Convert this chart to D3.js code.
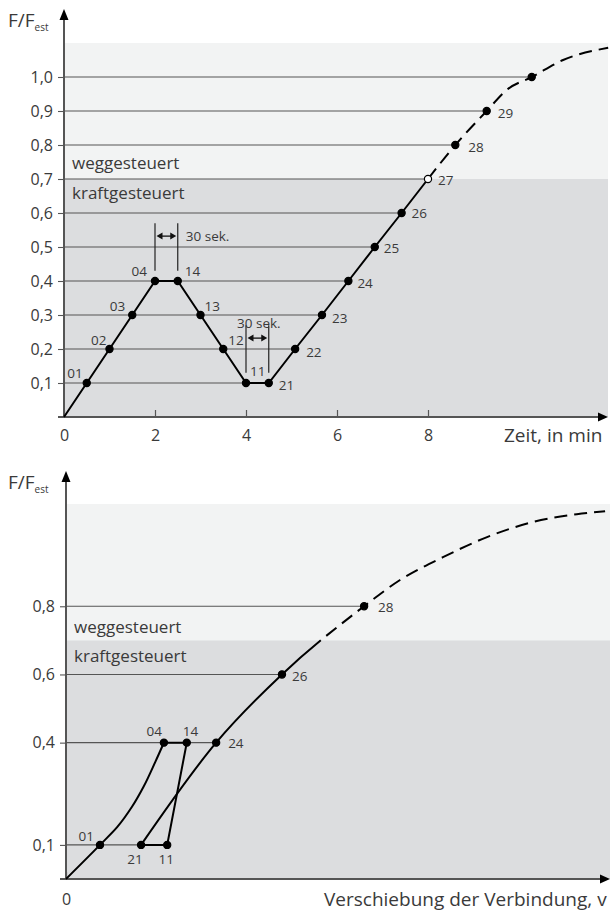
<!DOCTYPE html>
<html><head><meta charset="utf-8">
<script src="https://cdn.jsdelivr.net/npm/d3@7"></script>
<style>
body{margin:0;background:#fff}
svg{display:block}
text{font-family:"Open Sans",Roboto,"DejaVu Sans",sans-serif;fill:#3a3a3a}
</style>
</head><body><svg id="c" width="612" height="912"></svg>
<script>
// ---------------- DATA: upper chart (force vs. time) ----------------
const topTime   = [0, 0.5, 1.0, 1.5, 2.0, 2.5, 3.0, 3.5, 4.0, 4.5, 5.08, 5.67, 6.25, 6.83, 7.42, 8.0];
const topForce  = [0, 0.1, 0.2, 0.3, 0.4, 0.4, 0.3, 0.2, 0.1, 0.1, 0.2, 0.3, 0.4, 0.5, 0.6, 0.7];
const topLabels = [null, "01","02","03","04","14","13","12","11","21","22","23","24","25","26","27"];
const topDashTime   = [8.0, 8.6, 9.29, 9.73, 10.28, 10.97, 11.96];
const topDashForce  = [0.7, 0.8, 0.9, 0.962, 1.0, 1.05, 1.086];
const topDashLabels = [null, "28", "29", null, "", null, null];
const topYTicks = [0.1,0.2,0.3,0.4,0.5,0.6,0.7,0.8,0.9,1.0];
const topXTicks = [0,2,4,6,8];
const topXTitle = "Zeit, in min";
const holdStart = [2.0, 4.0];
const holdEnd   = [2.5, 4.5];
const holdText  = "30 sek.";
const openPoint = "27";

// ---------------- DATA: lower chart (force vs. displacement) ----------------
const botLoadV = [0, 0.625, 0.94, 1.21, 1.43, 1.64, 1.80];
const botLoadF = [0, 0.1, 0.152, 0.211, 0.272, 0.343, 0.4];
const botLoadLabels = [null, "01", null, null, null, null, "04"];
const botCycleV = [1.80, 2.22, 1.86, 1.38];
const botCycleF = [0.4, 0.4, 0.1, 0.1];
const botCycleLabels = ["04", "14", "11", "21"];
const botReloadV = [1.38, 2.76, 3.97, 5.48, 6.14, 6.93, 7.74, 8.58, 9.39, 9.91];
const botReloadF = [0.1, 0.4, 0.6, 0.8, 0.877, 0.944, 1.003, 1.047, 1.070, 1.079];
const botReloadLabels = ["21", "24", "26", "28", null, null, null, null, null, null];
const botYTicks = [0.1, 0.4, 0.6, 0.8];
const botXTicks = [0];
const botXTitle = "Verschiebung der Verbindung, v";

const zoneUpper = "weggesteuert", zoneLower = "kraftgesteuert";
const zoneLimit = 0.7, zoneTop = 1.1;
const yTitleMain = "F/F", yTitleSub = "est";

// ---------------- STYLE / LAYOUT ----------------
const C = {light:"#f2f3f3", dark:"#dcdddf", axis:"#555", grid:"#555", ink:"#000", text:"#3a3a3a"};
const labelPos = {
  top: {"01":[-4,-5,"end"],"02":[-3,-4,"end"],"03":[-7,-4,"end"],"04":[-8,-5,"end"],
        "14":[7,-5,"start"],"13":[4,-4,"start"],"12":[5,-4,"start"],"11":[4,-7,"start"],
        "21":[10,7,"start"],"22":[11,8,"start"],"23":[10,8,"start"],"24":[9,7,"start"],
        "25":[9,6,"start"],"26":[10,5,"start"],"27":[10,6,"start"],"28":[13,7,"start"],"29":[11,7,"start"]},
  bot: {"01":[-6,-4,"end"],"04":[-2,-7,"end"],"14":[-4,-7,"start"],"24":[12,5,"start"],
        "26":[10,7,"start"],"28":[14,6,"start"],"21":[-6,19,"middle"],"11":[-1,19,"middle"]}
};
const DASH = [13, 7];

const svg = d3.select("#c");
const fmt = v => d3.format(".1f")(v).replace(".", ",");
const zip = (a,b,l) => a.map((v,i)=>({x:v, y:b[i], label:l ? l[i] : null}));

function panel(opt){
  const g = svg.append("g");
  const x = d3.scaleLinear().domain(opt.xDomain).range(opt.xRange);
  const y = d3.scaleLinear().domain([0, zoneTop]).range(opt.yRange);
  const x0 = x(0), y0 = y(0), xR = opt.bgRight;

  g.append("rect").attr("x", x0+1).attr("y", y(zoneTop)).attr("width", xR-x0-1)
    .attr("height", y(zoneLimit)-y(zoneTop)).attr("fill", C.light);
  g.append("rect").attr("x", x0+1).attr("y", y(zoneLimit)).attr("width", xR-x0-1)
    .attr("height", y0-y(zoneLimit)).attr("fill", C.dark);

  const markers = opt.markers;
  const gridEnd = opt.yTicks.map(t => d3.max(markers.filter(m => Math.abs(m.y - t) < 1e-6), m => m.x));
  g.selectAll(".grid").data(opt.yTicks).join("line")
    .attr("x1", x0).attr("x2", (d,i)=>x(gridEnd[i]))
    .attr("y1", d=>y(d)).attr("y2", d=>y(d))
    .attr("stroke", C.grid).attr("stroke-width", 1.1);

  const ya = g.append("g").attr("transform", `translate(${x0},0)`)
    .call(d3.axisLeft(y).tickValues(opt.yTicks).tickSize(6).tickPadding(5).tickFormat(fmt));
  ya.select(".domain").remove();
  ya.selectAll(".tick line").attr("stroke", C.grid).attr("stroke-width", 1.1);
  ya.selectAll("text").attr("font-size", 16).attr("fill", C.text).attr("font-family", null);

  const xa = g.append("g").attr("transform", `translate(0,${y0})`)
    .call(d3.axisBottom(x).tickValues(opt.xTicks).tickSizeInner(-7).tickSizeOuter(0).tickPadding(opt.xPad).tickFormat(d3.format("d")));
  xa.select(".domain").remove();
  xa.selectAll(".tick line").attr("stroke", C.axis).attr("stroke-width", 1.2);
  xa.selectAll("text").attr("font-size", 16).attr("fill", C.text).attr("font-family", null);

  g.append("line").attr("x1", x0-6).attr("x2", xR-6).attr("y1", y0).attr("y2", y0)
    .attr("stroke", C.axis).attr("stroke-width", 2);
  g.append("path").attr("d", `M${xR},${y0} L${xR-10},${y0-4.5} L${xR-10},${y0+4.5} Z`).attr("fill", C.ink);
  g.append("line").attr("x1", x0).attr("x2", x0).attr("y1", y0).attr("y2", opt.arrowTop+8)
    .attr("stroke", C.axis).attr("stroke-width", 2);
  g.append("path").attr("d", `M${x0},${opt.arrowTop} L${x0-4.5},${opt.arrowTop+11} L${x0+4.5},${opt.arrowTop+11} Z`).attr("fill", C.ink);

  const yt = g.append("text").attr("x", 8).attr("y", opt.arrowTop+18).attr("font-size", 19);
  yt.append("tspan").text(yTitleMain);
  yt.append("tspan").attr("font-size", 10).attr("dy", 4).text(yTitleSub);
  g.append("text").attr("x", opt.xTitleX).attr("y", opt.xTitleY)
    .attr("font-size", 19).text(opt.xTitle);

  g.append("text").attr("x", x0+8).attr("y", opt.zoneUpperY).attr("font-size", 17).text(zoneUpper);
  g.append("text").attr("x", x0+8).attr("y", opt.zoneLowerY).attr("font-size", 17).text(zoneLower);

  return {g, x, y};
}

function drawMarkers(P, pts, key){
  P.g.selectAll(null).data(pts).join("circle")
    .attr("cx", d=>P.x(d.x)).attr("cy", d=>P.y(d.y)).attr("r", 3.6)
    .attr("fill", d=> d.label===openPoint && key==="top" ? "#fff" : C.ink)
    .attr("stroke", C.ink).attr("stroke-width", 1.2);
  P.g.selectAll(null).data(pts.filter(d=>d.label)).join("text")
    .attr("x", d=>P.x(d.x)+labelPos[key][d.label][0])
    .attr("y", d=>P.y(d.y)+labelPos[key][d.label][1])
    .attr("text-anchor", d=>labelPos[key][d.label][2])
    .attr("font-size", 13.5).text(d=>d.label);
}

// solid up to force level zoneLimit, dashed afterwards, on one continuous path
function solidThenDashed(P, pts, curve){
  const path = P.g.append("path")
    .attr("d", d3.line().x(d=>P.x(d.x)).y(d=>P.y(d.y)).curve(curve)(pts))
    .attr("fill","none").attr("stroke",C.ink).attr("stroke-width",2);
  const node = path.node(), total = node.getTotalLength(), yLim = P.y(zoneLimit);
  let lo = 0, hi = total;
  for(let k=0;k<40;k++){ const m=(lo+hi)/2; if(node.getPointAtLength(m).y > yLim) lo=m; else hi=m; }
  const arr = [lo];
  let acc = lo;
  while(acc < total + 40){ arr.push(DASH[1], DASH[0]); acc += DASH[0]+DASH[1]; }
  arr.push(total + 100);
  path.attr("stroke-dasharray", arr.join(","));
}

const lineLin = (sx,sy) => d3.line().x(d=>sx(d.x)).y(d=>sy(d.y));

// ---------------- upper chart ----------------
const topSolid = zip(topTime, topForce, topLabels);
const topDash = zip(topDashTime, topDashForce, topDashLabels);
const topMarkers = topSolid.filter(d=>d.label!==null).concat(topDash.filter(d=>d.label!==null));
const T = panel({xDomain:[0,12], xRange:[64,610], yRange:[417,43], bgRight:608,
  yTicks:topYTicks, xTicks:topXTicks, xPad:13, arrowTop:9, xTitle:topXTitle, xTitleX:504, xTitleY:442,
  zoneUpperY:169, zoneLowerY:199, markers:topMarkers});

holdStart.forEach((s,i)=>{
  const e = holdEnd[i];
  const lv = topForce[topTime.indexOf(s)];
  const yTopV = lv + 0.17, yBotV = lv + 0.03, yArr = lv + 0.132;
  [s,e].forEach(t => T.g.append("line").attr("x1",T.x(t)).attr("x2",T.x(t))
      .attr("y1",T.y(yTopV)).attr("y2",T.y(yBotV)).attr("stroke","#222").attr("stroke-width",1.2));
  const xa = T.x(s)+1.5, xb = T.x(e)-1.5, ya = T.y(yArr);
  T.g.append("line").attr("x1",xa+4).attr("x2",xb-4).attr("y1",ya).attr("y2",ya).attr("stroke","#111").attr("stroke-width",1.3);
  T.g.append("path").attr("d",`M${xa},${ya} L${xa+6},${ya-3.5} L${xa+6},${ya+3.5}Z M${xb},${ya} L${xb-6},${ya-3.5} L${xb-6},${ya+3.5}Z`).attr("fill","#111");
  if(i===0){
    T.g.append("text").attr("x", T.x(e)+8).attr("y", T.y(yArr)+5).attr("font-size",13.5).text(holdText);
  } else {
    T.g.append("text").attr("x", T.x(s)-9).attr("y", T.y(yTopV)+3).attr("font-size",13.5).text(holdText);
  }
});

T.g.append("path").attr("d", lineLin(T.x,T.y)(topSolid)).attr("fill","none").attr("stroke",C.ink).attr("stroke-width",2);
T.g.append("path").attr("d", lineLin(T.x,T.y).curve(d3.curveMonotoneX)(topDash)).attr("fill","none")
  .attr("stroke",C.ink).attr("stroke-width",2).attr("stroke-dasharray",DASH.join(","));
drawMarkers(T, topMarkers, "top");

// ---------------- lower chart ----------------
const bLoad = zip(botLoadV, botLoadF, botLoadLabels);
const bCycle = zip(botCycleV, botCycleF, botCycleLabels);
const bReload = zip(botReloadV, botReloadF, botReloadLabels);
const bMarkersAll = [bLoad, bCycle, bReload].flat().filter(d=>d.label);
const uniq = Array.from(new Map(bMarkersAll.map(d=>[d.label,d])).values());
const B = panel({xDomain:[0,10], xRange:[66,610], yRange:[879,504], bgRight:610,
  yTicks:botYTicks, xTicks:botXTicks, xPad:15, arrowTop:471, xTitle:botXTitle, xTitleX:324, xTitleY:906,
  zoneUpperY:633, zoneLowerY:662, markers:uniq});

B.g.append("path").attr("d", lineLin(B.x,B.y).curve(d3.curveMonotoneY)(bLoad)).attr("fill","none").attr("stroke",C.ink).attr("stroke-width",2);
B.g.append("path").attr("d", lineLin(B.x,B.y)(bCycle)).attr("fill","none").attr("stroke",C.ink).attr("stroke-width",2);
solidThenDashed(B, bReload, d3.curveMonotoneX);
drawMarkers(B, uniq, "bot");
</script>
</body></html>
